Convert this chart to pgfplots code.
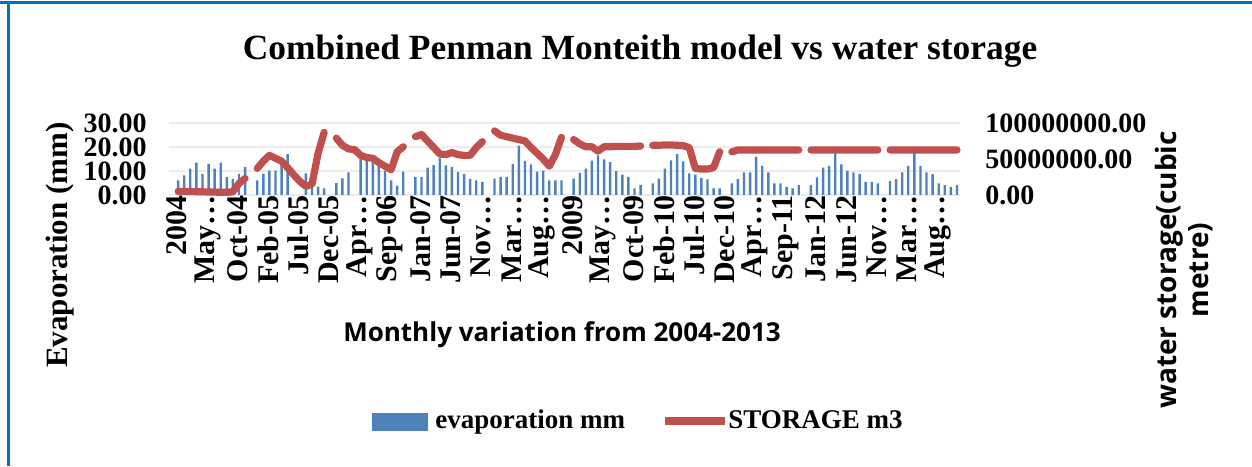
\documentclass[border=0pt]{standalone}
\usepackage{fontspec}
\setmainfont{Liberation Serif}
\newfontfamily\osans{Open Sans}
\usepackage{pgfplots}
\pgfplotsset{compat=1.18}
\usepackage{pgfplotstable}
\definecolor{evapblue}{RGB}{79,129,189}
\definecolor{storred}{RGB}{192,80,77}
\definecolor{frameblue}{RGB}{0,112,192}
\definecolor{gridgray}{RGB}{236,236,236}

\pgfplotstableread{
x evap storage
0 nan nan
1 6.1 5000000
2 8.2 5000000
3 11.0 4800000
4 13.5 4600000
5 8.8 4400000
6 13.0 4200000
7 11.0 4000000
8 13.5 3800000
9 7.4 3700000
10 6.7 4500000
11 8.8 16000000
12 11.6 23000000
13 nan nan
14 6.1 37000000
15 8.8 47000000
16 10.2 55000000
17 10.2 51000000
18 15.4 47000000
19 17.0 38000000
20 nan 28000000
21 nan 19000000
22 9.0 12000000
23 3.5 15000000
24 3.5 58000000
25 2.8 87000000
26 nan nan
27 4.9 79000000
28 6.9 69000000
29 9.4 64000000
30 nan 63000000
31 15.0 55000000
32 14.4 52000000
33 14.0 51000000
34 12.0 45000000
35 10.0 40000000
36 6.1 35000000
37 3.9 60000000
38 9.7 67000000
39 nan nan
40 7.6 81000000
41 7.6 84000000
42 11.4 75000000
43 12.4 66000000
44 15.5 57000000
45 12.3 56000000
46 11.6 59000000
47 9.5 56000000
48 8.8 55000000
49 6.7 55000000
50 6.1 66000000
51 5.5 74000000
52 nan nan
53 6.8 89000000
54 7.5 83000000
55 7.5 81000000
56 13.0 79000000
57 20.6 77000000
58 14.2 75000000
59 12.8 66000000
60 9.7 58000000
61 10.2 50000000
62 6.1 40000000
63 6.1 56000000
64 6.1 80000000
65 nan nan
66 6.8 77000000
67 9.2 71000000
68 11.0 67000000
69 14.3 67000000
70 16.5 61000000
71 14.8 67000000
72 13.7 67000000
73 9.9 67500000
74 8.5 67500000
75 7.5 67500000
76 2.8 67500000
77 4.2 68000000
78 nan nan
79 4.8 69000000
80 6.8 69000000
81 11.0 69500000
82 14.4 69500000
83 17.0 69000000
84 14.0 68500000
85 9.0 66000000
86 8.5 37000000
87 7.1 36000000
88 6.5 36000000
89 2.8 38000000
90 2.8 60000000
91 nan nan
92 4.8 60000000
93 6.6 62500000
94 9.4 62500000
95 9.4 62500000
96 16.0 62500000
97 12.1 62500000
98 9.4 62500000
99 4.8 62500000
100 4.8 62500000
101 3.4 62500000
102 2.8 62500000
103 4.1 62500000
104 nan nan
105 4.1 62500000
106 7.3 62500000
107 11.4 62500000
108 12.1 62500000
109 18.0 62500000
110 12.8 62500000
111 10.1 62500000
112 9.4 62500000
113 8.7 62500000
114 5.5 62500000
115 5.5 62500000
116 4.8 62500000
117 nan nan
118 5.9 62500000
119 6.6 62500000
120 9.4 62500000
121 12.1 62500000
122 18.0 62500000
123 12.1 62500000
124 9.4 62500000
125 8.7 62500000
126 4.8 62500000
127 4.1 62500000
128 3.4 62500000
129 4.1 62500000
}\data

\begin{document}
\begin{tikzpicture}
\path[use as bounding box] (0pt,0pt) rectangle (626pt,233pt);
% frame
\draw[frameblue, line width=1.5pt] (0pt,231.5pt) -- (626pt,231.5pt);
\draw[frameblue, line width=1.5pt] (4pt,0pt) -- (4pt,231.5pt);

\begin{axis}[
  at={(84.5pt,135.5pt)}, anchor=south west,
  scale only axis, width=395.5pt, height=36pt,
  xmin=-0.5, xmax=129.5, ymin=0, ymax=30,
  ybar, bar width=1.2pt,
  axis line style={draw=none},
  major tick length=0pt,
  ytick={0,10,20,30},
  yticklabels={0.00,10.00,20.00,30.00},
  ymajorgrids, grid style={gridgray, line width=1pt},
  xtick={0,5,...,125},
  xticklabels={2004,May\ldots,Oct-04,Feb-05,Jul-05,Dec-05,Apr\ldots,Sep-06,Jan-07,Jun-07,Nov\ldots,Mar\ldots,Aug\ldots,2009,May\ldots,Oct-09,Feb-10,Jul-10,Dec-10,Apr\ldots,Sep-11,Jan-12,Jun-12,Nov\ldots,Mar\ldots,Aug\ldots},
  xticklabel style={rotate=90, anchor=east, inner sep=0pt, yshift=-2.5pt, font=\fontsize{15}{15}\selectfont\bfseries},
  yticklabel style={anchor=east, inner sep=0pt, xshift=-11pt, font=\fontsize{14}{12}\selectfont\bfseries},
  clip=false,
]
\addplot[fill=evapblue, draw=none] table[x=x, y=evap] {\data};
\end{axis}

\begin{axis}[
  at={(84.5pt,135.5pt)}, anchor=south west,
  scale only axis, width=395.5pt, height=36pt,
  xmin=-0.5, xmax=129.5, ymin=0, ymax=100000000,
  axis y line*=right, axis x line=none,
  axis line style={draw=none},
  major tick length=0pt,
  scaled y ticks=false,
  ytick={0,50000000,100000000},
  yticklabels={0.00,50000000.00,100000000.00},
  yticklabel style={anchor=west, inner sep=0pt, xshift=12.5pt, font=\fontsize{14}{12}\selectfont\bfseries},
  clip=false,
]
\addplot[storred, line width=3.6pt, line cap=round, line join=round, unbounded coords=jump] table[x=x, y=storage] {\data};
\end{axis}

% title
\node[anchor=base, font=\fontsize{17.7}{20}\selectfont\bfseries] at (320pt,203pt) {Combined Penman Monteith model vs water storage};
% y labels
\node[rotate=90, font=\fontsize{15.5}{15.5}\selectfont\bfseries] at (30pt,110.5pt) {Evaporation (mm)};
\node[rotate=90, align=center, font=\osans\fontsize{14}{16}\selectfont\bfseries] at (592pt,98pt) {water storage(cubic\\metre)};
% x label
\node[font=\osans\fontsize{13}{14}\selectfont\bfseries] at (281pt,65.5pt) {Monthly variation from 2004-2013};
% legend
\fill[evapblue] (186pt,17.5pt) rectangle (214pt,26.5pt);
\node[anchor=base west, inner sep=0pt, font=\fontsize{13.5}{14}\selectfont\bfseries] at (217.5pt,19pt) {evaporation mm};
\draw[storred, line width=3.6pt] (332.5pt,22.5pt) -- (362.5pt,22.5pt);
\node[anchor=base west, inner sep=0pt, font=\fontsize{13.5}{14}\selectfont\bfseries] at (364pt,19pt) {STORAGE m3};
\end{tikzpicture}
\end{document}
